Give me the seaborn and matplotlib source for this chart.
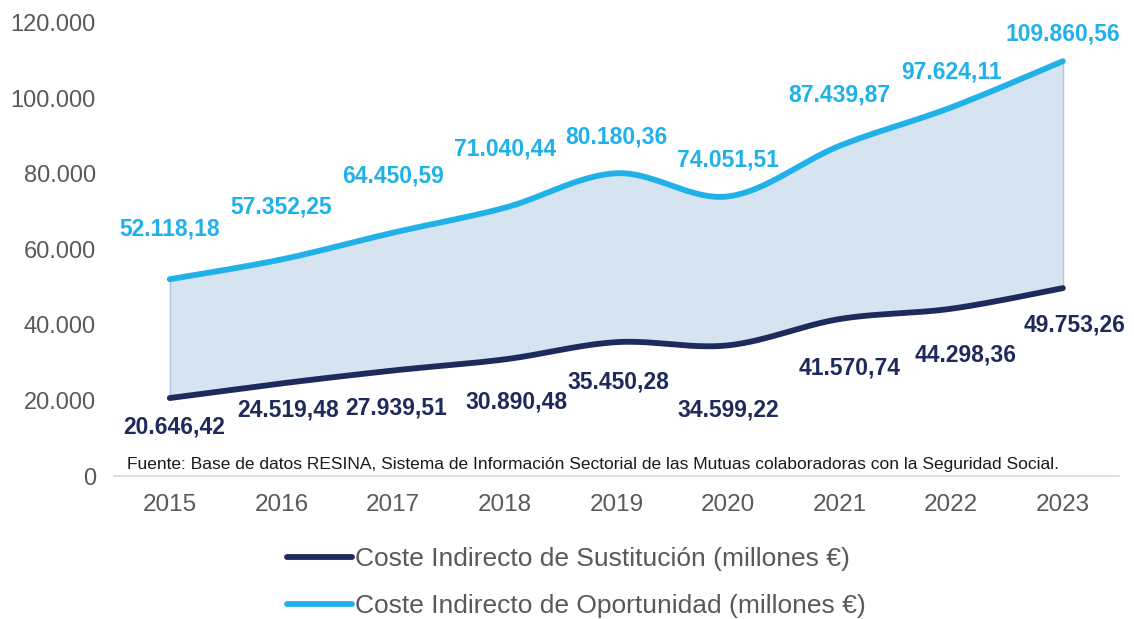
import numpy as np
import pandas as pd
import matplotlib
matplotlib.use("Agg")
import matplotlib.pyplot as plt
import seaborn as sns

# datos
years = ["2015", "2016", "2017", "2018", "2019", "2020", "2021", "2022", "2023"]
sustitucion = [20646.42, 24519.48, 27939.51, 30890.48, 35450.28, 34599.22, 41570.74, 44298.36, 49753.26]
oportunidad = [52118.18, 57352.25, 64450.59, 71040.44, 80180.36, 74051.51, 87439.87, 97624.11, 109860.56]
y_ticks = [0, 20000, 40000, 60000, 80000, 100000, 120000]

lbl_sust = "Coste Indirecto de Sustitución (millones €)"
lbl_opor = "Coste Indirecto de Oportunidad (millones €)"
fuente = ("Fuente: Base de datos RESINA, Sistema de Información Sectorial de las Mutuas "
          "colaboradoras con la Seguridad Social.")

c_dark = "#1F2A5C"
c_light = "#1FB1E8"
c_fill = "#D6E3F0"
c_text = "#595959"

sns.set_theme(style="white")
plt.rcParams["font.family"] = ["Liberation Sans", "DejaVu Sans"]


def es_fmt(v, dec=2):
    s = f"{v:,.{dec}f}"
    return s.replace(",", "X").replace(".", ",").replace("X", ".")


def smooth(xs, ys, n=30):
    # curva tipo Catmull-Rom (suavizado estilo Excel)
    xs = np.asarray(xs, float)
    ys = np.asarray(ys, float)
    px = np.concatenate([[xs[0]], xs, [xs[-1]]])
    py = np.concatenate([[ys[0]], ys, [ys[-1]]])
    out_x, out_y = [], []
    for i in range(1, len(px) - 2):
        t = np.linspace(0, 1, n, endpoint=(i == len(px) - 3))
        for arr, out in ((px, out_x), (py, out_y)):
            p0, p1, p2, p3 = arr[i - 1], arr[i], arr[i + 1], arr[i + 2]
            out.extend(0.5 * ((2 * p1) + (-p0 + p2) * t
                              + (2 * p0 - 5 * p1 + 4 * p2 - p3) * t ** 2
                              + (-p0 + 3 * p1 - 3 * p2 + p3) * t ** 3))
    return np.array(out_x), np.array(out_y)


x_idx = np.arange(len(years))
sx, sy = smooth(x_idx, sustitucion)
ox, oy = smooth(x_idx, oportunidad)

fig = plt.figure(figsize=(11.34, 6.19), dpi=100)
ax = fig.add_axes([0.1005, 0.231, 0.886, 0.732])

ax.fill_between(ox, sy, oy, color=c_fill, edgecolor="none", zorder=1)
ax.plot([0, 0], [sustitucion[0], oportunidad[0]], color="#A9C8E8", lw=1, zorder=1)
ax.plot([8, 8], [sustitucion[-1], oportunidad[-1]], color="#A9C8E8", lw=1, zorder=1)

sns.lineplot(x=sx, y=sy, color=c_dark, linewidth=4.2, label=lbl_sust, ax=ax,
             sort=False, zorder=3)
sns.lineplot(x=ox, y=oy, color=c_light, linewidth=4.2, label=lbl_opor, ax=ax,
             sort=False, zorder=3)

# etiquetas de valores (desplazamientos en píxeles)
off_opor = [(0, 50), (0, 52), (0, 57), (0, 59), (0, 36), (0, 36), (0, 51), (0, 35), (0, 27)]
off_sust = [(4, -29), (7, -27), (3, -37), (12, -43), (2, -40), (0, -65), (10, -49), (14, -46), (12, -37)]
for i in range(len(years)):
    ax.annotate(es_fmt(oportunidad[i]), (i, oportunidad[i]), xytext=off_opor[i],
                textcoords="offset pixels", ha="center", va="center",
                fontsize=16.5, fontweight="bold", color=c_light, zorder=4)
    ax.annotate(es_fmt(sustitucion[i]), (i, sustitucion[i]), xytext=off_sust[i],
                textcoords="offset pixels", ha="center", va="center",
                fontsize=16.5, fontweight="bold", color=c_dark, zorder=4)

ax.set_xlim(-0.5, len(years) - 0.5)
ax.set_ylim(0, 120000)
ax.set_xticks(x_idx)
ax.set_xticklabels(years)
ax.set_yticks(y_ticks)
ax.set_yticklabels([es_fmt(v, 0) if v else "0" for v in y_ticks])
ax.tick_params(axis="both", length=0, labelsize=17.5, labelcolor=c_text)
ax.tick_params(axis="x", pad=13)
ax.tick_params(axis="y", labelsize=17, pad=13)

for s in ["top", "right", "left"]:
    ax.spines[s].set_visible(False)
ax.spines["bottom"].set_color("#D9D9D9")
ax.spines["bottom"].set_linewidth(1.2)

ax.text(0.477, 0.025, fuente, transform=ax.transAxes, ha="center", va="center",
        fontsize=12.5, color="#1a1a1a")

ax.get_legend().remove()
h, l = ax.get_legend_handles_labels()
fig.legend(h, l, loc="upper left", bbox_to_anchor=(0.253, 0.116), frameon=False,
           fontsize=19, labelcolor=c_text, handlelength=2.46, handletextpad=0.11,
           labelspacing=0.86, borderpad=0, borderaxespad=0)

fig.savefig("out.png", dpi=100, facecolor="white")
